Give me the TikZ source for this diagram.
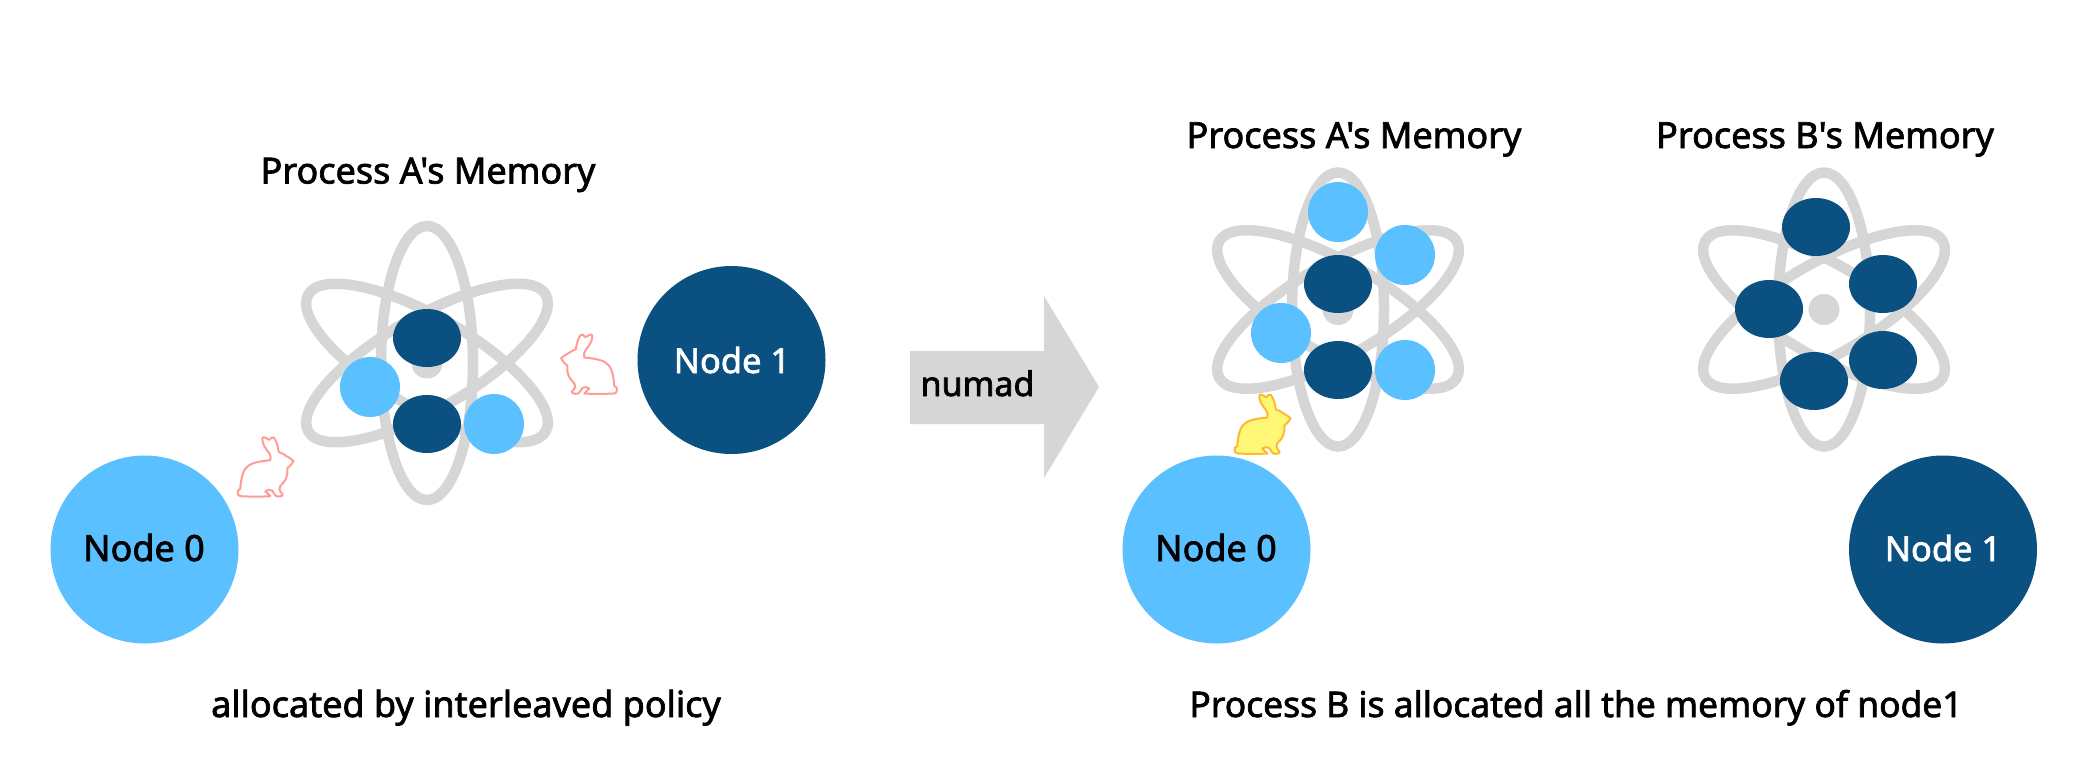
\documentclass[tikz,border=0pt]{standalone}
\usepackage{fontspec}
\setmainfont{Noto Sans}
\newfontfamily\labfont{Noto Sans}[FakeBold=2]
\definecolor{darkblue}{HTML}{0A5080}
\definecolor{lightblue}{HTML}{5BC0FF}
\definecolor{orbit}{HTML}{D6D6D6}
\definecolor{pinkline}{HTML}{FF9C96}
\definecolor{yelfill}{HTML}{FFF876}
\definecolor{yelline}{HTML}{FFB830}
\usetikzlibrary{shapes.geometric}
\tikzset{
  x=1pt,y=-1pt,
  lab/.style={anchor=base,inner sep=0pt,text=black,font=\labfont\fontsize{36}{42}\selectfont},
  widelab/.style={lab,font=\labfont\fontsize{35.4}{42}\selectfont},
  smalllab/.style={lab,font=\labfont\fontsize{34}{40}\selectfont},
  whitelab/.style={lab,text=white,font=\labfont\fontsize{34.5}{42}\selectfont},
  orbitline/.style={draw=orbit,line width=10.5pt},
  nucleus/.style={fill=orbit,draw=none},
  darkmem/.style={ellipse,fill=darkblue,draw=none,minimum width=68pt,minimum height=58pt,inner sep=0pt},
  lightmem/.style={circle,fill=lightblue,draw=none,minimum size=60pt,inner sep=0pt},
  bigdark/.style={circle,fill=darkblue,draw=none,minimum size=188pt,inner sep=0pt},
  biglight/.style={circle,fill=lightblue,draw=none,minimum size=188pt,inner sep=0pt},
  pinkrabbit/.style={draw=pinkline,line width=2pt,fill=white,line join=round},
  yellowrabbit/.style={draw=yelline,line width=2pt,fill=yelfill,line join=round},
}
\newcommand{\atomdraw}[2]{%
  \draw[orbitline] (#1,#2) ellipse [x radius=46,y radius=137];
  \draw[orbitline,rotate around={30:(#1,#2)}] (#1,#2) ellipse [x radius=137,y radius=46];
  \draw[orbitline,rotate around={-30:(#1,#2)}] (#1,#2) ellipse [x radius=137,y radius=46];
  \fill[nucleus] (#1,#2) ellipse [x radius=15.5,y radius=15.5];
}
% #1 style, #2 x, #3 y, #4 horizontal scale (1 faces right, -1 faces left)
\newcommand{\rabbitdraw}[4]{%
  \begin{scope}[shift={(#2,#3)},xscale=#4]
  \draw[#1] (25,2) .. controls (25,0.5) and (26,0) .. (27.5,0.8)
    -- (32,3.2) .. controls (33.5,1) and (35,0.2) .. (36.5,0.8)
    .. controls (39,4) and (40.5,9) .. (41.5,15.3)
    .. controls (44,16) and (46.5,17.5) .. (49,19.3)
    .. controls (52,21) and (54.5,22.5) .. (56.3,24.3)
    .. controls (55.5,26.5) and (53,29) .. (50,31.5)
    .. controls (50.5,35) and (50,38) .. (49,41)
    .. controls (47.5,45) and (45,47) .. (43,49.3)
    .. controls (41.5,52) and (42,54) .. (43.5,55.5)
    .. controls (45,56.5) and (46,58) .. (45,59)
    .. controls (43,60) and (40.5,60) .. (39,59.5)
    .. controls (37.5,58) and (36.5,56.5) .. (35,54)
    .. controls (33,52.5) and (30,53) .. (28,54.5)
    -- (33,59.5) .. controls (28,60) and (10,60) .. (4,59.5)
    .. controls (0.5,59.5) and (-0.5,56) .. (0.5,54)
    .. controls (1.5,52.5) and (3,52.5) .. (3,52)
    .. controls (3.5,44) and (5,36) .. (8,32)
    .. controls (12,26.5) and (20,24.8) .. (33,23.5)
    .. controls (33.5,20.5) and (33.5,18.5) .. (32,16.5)
    .. controls (27.5,11) and (25,7) .. (25,2) -- cycle;
  \end{scope}
}
\begin{document}
\begin{tikzpicture}
\useasboundingbox (0,0) rectangle (2080,774);
\fill[white] (0,0) rectangle (2080,774);

% left atom
\atomdraw{427}{363}
\node[darkmem] (la1) at (427,338) {};
\node[darkmem] (la2) at (427,424) {};
\node[lightmem] (la3) at (370,387) {};
\node[lightmem] (la4) at (494,424) {};
\rabbitdraw{pinkrabbit}{237.3}{436.7}{1}
\rabbitdraw{pinkrabbit}{617.3}{334}{-1}
\node[biglight] (ln0) at (144.5,549.5) {};
\node[bigdark] (ln1) at (731.5,360) {};
\node[lab] (ln0t) at (144,561) {Node 0};
\node[whitelab] (ln1t) at (732,373) {Node 1};
\node[lab] (lt) at (428,183.5) {Process A's Memory};
\node[lab] (lb) at (466,717) {allocated by interleaved policy};

% arrow
\fill[orbit] (910,351) -- (1044,351) -- (1044,296) -- (1099,387) -- (1044,478) -- (1044,424) -- (910,424) -- cycle;
\node[smalllab] (nm) at (977.5,396) {numad};

% right atom A
\atomdraw{1338}{309.5}
\node[lightmem] (ra1) at (1338,212) {};
\node[lightmem] (ra2) at (1405,255) {};
\node[lightmem] (ra3) at (1281,333) {};
\node[lightmem] (ra4) at (1405,370) {};
\node[darkmem] (ra5) at (1338,284) {};
\node[darkmem] (ra6) at (1338,370) {};
\rabbitdraw{yellowrabbit}{1234.3}{394}{1}
\node[biglight] (rn0) at (1216.5,549.5) {};
\node[lab] (rn0t) at (1216,561) {Node 0};
\node[lab] (rta) at (1354,148) {Process A's Memory};

% right atom B
\atomdraw{1824}{309.5}
\node[darkmem] (rb1) at (1816,227) {};
\node[darkmem] (rb2) at (1883,284) {};
\node[darkmem] (rb3) at (1769,309) {};
\node[darkmem] (rb4) at (1883,360) {};
\node[darkmem] (rb5) at (1814,381) {};
\node[bigdark] (rn1) at (1943,549.5) {};
\node[whitelab] (rn1t) at (1943,561) {Node 1};
\node[lab] (rtb) at (1825,148) {Process B's Memory};
\node[widelab] (rb) at (1576,717) {Process B is allocated all the memory of node1};
\end{tikzpicture}
\end{document}
